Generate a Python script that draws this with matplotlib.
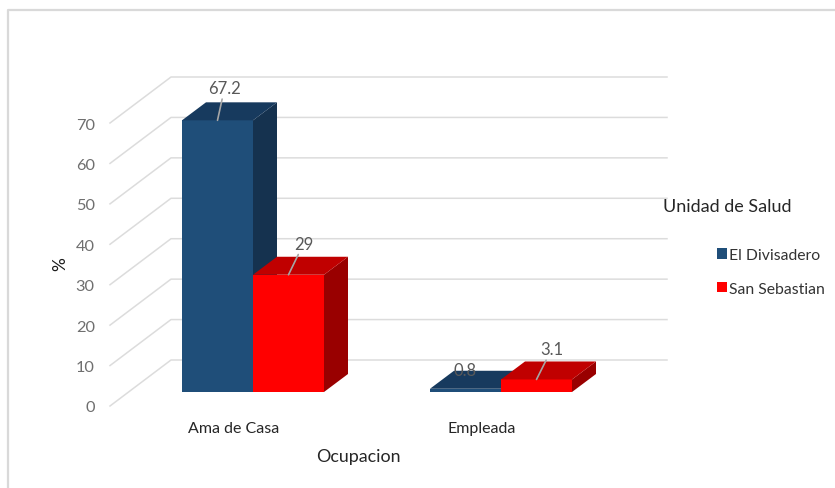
import matplotlib
matplotlib.use("Agg")
import matplotlib.pyplot as plt
from matplotlib.lines import Line2D
from matplotlib.patches import Polygon, Patch

plt.rcParams["font.family"] = ["Lato", "DejaVu Sans"]

categories = ["Ama de Casa", "Empleada"]
el_divisadero = [67.2, 0.8]
san_sebastian = [29, 3.1]
y_ticks = [0, 10, 20, 30, 40, 50, 60, 70]

W, H = 835, 489
fig = plt.figure(figsize=(W / 100, H / 100), dpi=100)
# front plane of the chart box, everything else is offset from this
ax = fig.add_axes([110 / W, (H - 407) / H, 496 / W, 283 / H])
ax.set_xlim(-0.5, 1.5)
ax.set_ylim(0, 70)

px_x = 2 / 496
px_y = 70 / 283

# fake 3d depth, in pixels
wall_dx, wall_dy = 61 * px_x, 46 * px_y
bar_dx, bar_dy = 19 * px_x, 14 * px_y
side_dx, side_dy = 24 * px_x, 18 * px_y
bar_w = 71 * px_x

grid_color = "#dcdcdc"
for v in y_ticks:
    ax.plot([-0.5, -0.5 + wall_dx, 1.5 + wall_dx], [v, v + wall_dy, v + wall_dy],
            color=grid_color, lw=1.1, clip_on=False, zorder=1)


def draw_bar(x0, val, front, top, side):
    y0 = bar_dy
    ax.bar(x0, val, bar_w, bottom=y0, align="edge", color=front, edgecolor="none", zorder=3, clip_on=False)
    x1 = x0 + bar_w
    y1 = y0 + val
    ax.add_patch(Polygon([(x1, y0), (x1 + side_dx, y0 + side_dy), (x1 + side_dx, y1 + side_dy), (x1, y1)],
                         facecolor=side, edgecolor="none", zorder=3, clip_on=False))
    ax.add_patch(Polygon([(x0, y1), (x0 + side_dx, y1 + side_dy), (x1 + side_dx, y1 + side_dy), (x1, y1)],
                         facecolor=top, edgecolor="none", zorder=3, clip_on=False))


label_gray = "#595959"
offsets_blue = [(7, 32), (0, 19)]
offsets_red = [(15, 31), (15, 30)]
for i in range(len(categories)):
    xb = i + bar_dx - bar_w
    xr = i + bar_dx
    draw_bar(xb, el_divisadero[i], "#1f4e79", "#173a5e", "#15324f")
    draw_bar(xr, san_sebastian[i], "#ff0000", "#c00000", "#990000")

    for x0, val, off in [(xb, el_divisadero[i], offsets_blue[i]), (xr, san_sebastian[i], offsets_red[i])]:
        arrow = dict(arrowstyle="-", color="#a6a6a6", lw=1.2, shrinkA=0, shrinkB=0)
        if val == 0.8:
            arrow = None
        ax.annotate(str(val), (x0 + bar_w / 2, val + bar_dy), xytext=off, textcoords="offset pixels",
                    ha="center", va="center", fontsize=12, color=label_gray, arrowprops=arrow, zorder=5,
                    annotation_clip=False)

for s in ax.spines.values():
    s.set_visible(False)
ax.patch.set_visible(False)
ax.set_xticks([0, 1], categories)
ax.set_yticks(y_ticks, [str(v) for v in y_ticks])
ax.tick_params(axis="x", length=0, pad=11, labelsize=11.5, labelcolor="#262626")
ax.tick_params(axis="y", length=0, pad=11, labelsize=11.8, labelcolor="#6f6f6f")

ax.set_xlabel("Ocupacion", fontsize=12.9, color="#262626")
ax.xaxis.set_label_coords((358 - 110) / 496, -50 / 283, transform=ax.transAxes)
ax.xaxis.label.set_va("center")
ax.set_ylabel("%", fontsize=12.5, color="#1a1a1a")
ax.yaxis.set_label_coords((60 - 110) / 496, (407 - 264) / 283, transform=ax.transAxes)
ax.yaxis.label.set_va("center")

handles = [Patch(facecolor="#1f4e79", label="El Divisadero"), Patch(facecolor="#ff0000", label="San Sebastian")]
fig.legend(handles=handles, loc="upper left", bbox_to_anchor=(717 / W, (H - 249) / H), frameon=False,
           fontsize=11.3, handlelength=0.62, handleheight=0.62, handletextpad=0.17, labelspacing=1.27,
           borderpad=0, borderaxespad=0, labelcolor="#333333")
fig.text(663 / W, (H - 207) / H, "Unidad de Salud", fontsize=13, color="#262626", va="center")

# outer frame of the pasted chart
fig.add_artist(Line2D([8 / W, 8 / W, 1], [0, (H - 11) / H, (H - 11) / H], color="#d9d9d9", lw=1.6))

fig.savefig("out.png", dpi=100)
